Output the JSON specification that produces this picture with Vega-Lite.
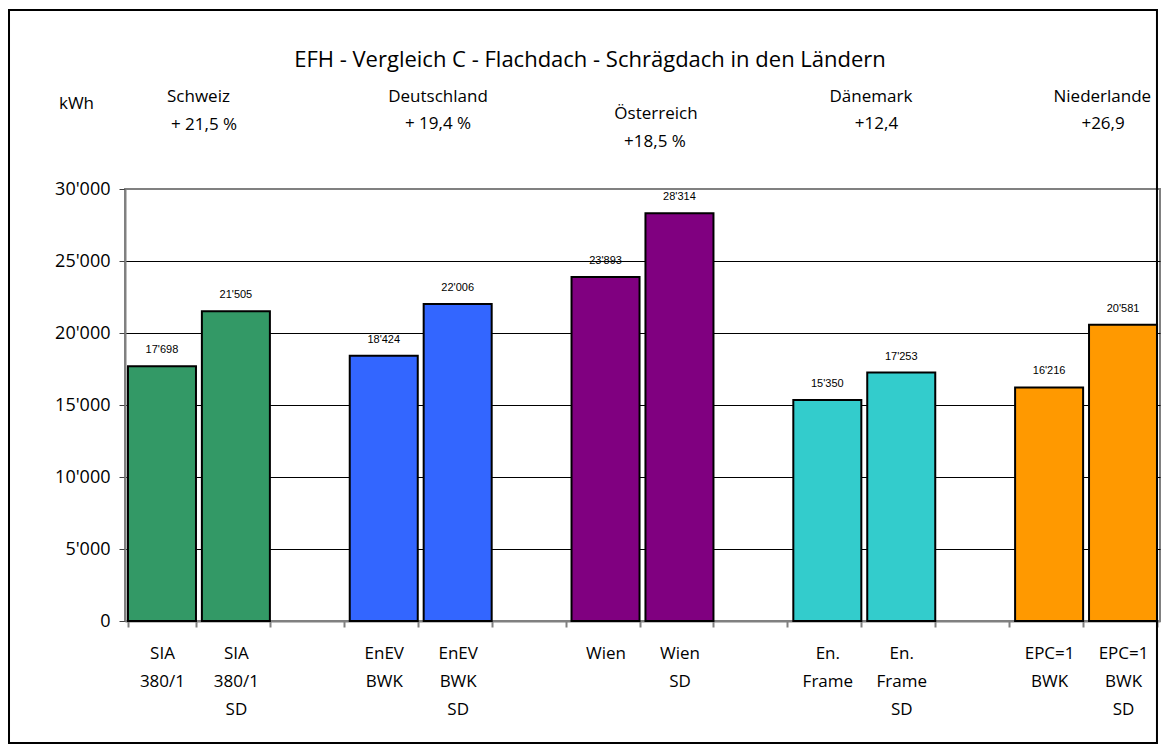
{
  "$schema": "https://vega.github.io/schema/vega-lite/v6.json",
  "autosize": {"type": "none"},
  "width": 1035,
  "height": 432,
  "padding": {"left": 125, "top": 189, "right": 5, "bottom": 130},
  "background": "white",
  "config": {
    "locale": {"number": {"decimal": ",", "thousands": "'", "grouping": [3], "currency": ["", ""]}},
    "view": {"stroke": "#808080", "strokeWidth": 2},
    "font": "Open Sans"
  },
  "resolve": {"scale": {"x": "independent"}},
  "layer": [
    {
      "data": {"values": [
        {"label": "SIA|380/1", "grp": "Schweiz", "kwh": 17698},
        {"label": "SIA|380/1|SD", "grp": "Schweiz", "kwh": 21505},
        {"label": "EnEV|BWK", "grp": "Deutschland", "kwh": 18424},
        {"label": "EnEV|BWK|SD", "grp": "Deutschland", "kwh": 22006},
        {"label": "Wien", "grp": "Österreich", "kwh": 23893},
        {"label": "Wien|SD", "grp": "Österreich", "kwh": 28314},
        {"label": "En.|Frame", "grp": "Dänemark", "kwh": 15350},
        {"label": "En.|Frame|SD", "grp": "Dänemark", "kwh": 17253},
        {"label": "EPC=1|BWK", "grp": "Niederlande", "kwh": 16216},
        {"label": "EPC=1|BWK|SD", "grp": "Niederlande", "kwh": 20581}
      ]},
      "encoding": {
        "x": {
          "field": "label", "type": "nominal", "sort": null,
          "scale": {
            "domain": ["SIA|380/1", "SIA|380/1|SD", "_1", "EnEV|BWK", "EnEV|BWK|SD", "_2", "Wien", "Wien|SD", "_3", "En.|Frame", "En.|Frame|SD", "_4", "EPC=1|BWK", "EPC=1|BWK|SD"],
            "paddingInner": 0.08, "paddingOuter": 0.04
          },
          "axis": {
            "title": null,
            "labelAngle": 0,
            "labelExpr": "indexof(datum.label, '_') == 0 ? '' : split(datum.label, '|')",
            "labelFont": "Open Sans", "labelFontSize": 17, "labelColor": "black",
            "labelLineHeight": 28, "labelPadding": 18,
            "tickBand": "extent", "tickSize": 6, "tickColor": "#808080", "tickWidth": 2,
            "domainColor": "#808080", "domainWidth": 2,
            "grid": false
          }
        },
        "y": {
          "field": "kwh", "type": "quantitative",
          "scale": {"domain": [0, 30000], "nice": false, "zero": true},
          "axis": {
            "title": null,
            "values": [0, 5000, 10000, 15000, 20000, 25000, 30000],
            "format": ",d",
            "labelFont": "Open Sans", "labelFontSize": 18, "labelColor": "black",
            "labelPadding": 9,
            "tickSize": 6, "tickColor": "#404040", "tickWidth": 1,
            "domainColor": "#808080", "domainWidth": 2,
            "grid": true,
            "gridColor": {"condition": {"test": "datum.value == 30000 || datum.value == 0", "value": "#808080"}, "value": "black"},
            "gridWidth": 1
          }
        }
      },
      "layer": [
        {
          "mark": {"type": "bar", "stroke": "black", "strokeWidth": 2, "opacity": 1},
          "encoding": {
            "color": {
              "field": "grp", "type": "nominal",
              "scale": {"domain": ["Schweiz", "Deutschland", "Österreich", "Dänemark", "Niederlande"], "range": ["#339966", "#3366FF", "#800080", "#33CCCC", "#FF9900"]},
              "legend": null
            }
          }
        },
        {
          "mark": {"type": "text", "font": "Liberation Sans", "fontSize": 11, "color": "black", "baseline": "alphabetic", "dy": -13},
          "encoding": {"text": {"field": "kwh", "type": "quantitative", "format": ",d"}}
        }
      ]
    },
    {
      "data": {"values": [
        {"t": "kWh", "xs": -0.656, "ys": 35556},
        {"t": "Schweiz", "xs": 0.994, "ys": 36063},
        {"t": "+ 21,5 %", "xs": 1.069, "ys": 34097},
        {"t": "Deutschland", "xs": 4.234, "ys": 36063},
        {"t": "+ 19,4 %", "xs": 4.234, "ys": 34167},
        {"t": "Österreich", "xs": 7.182, "ys": 34861},
        {"t": "+18,5 %", "xs": 7.169, "ys": 32938},
        {"t": "Dänemark", "xs": 10.09, "ys": 36063},
        {"t": "+12,4", "xs": 10.165, "ys": 34167},
        {"t": "Niederlande", "xs": 13.22, "ys": 36063},
        {"t": "+26,9", "xs": 13.23, "ys": 34167}
      ]},
      "mark": {"type": "text", "font": "Open Sans", "fontSize": 17, "color": "black", "align": "center", "baseline": "alphabetic"},
      "encoding": {
        "x": {"field": "xs", "type": "quantitative", "scale": {"domain": [0, 14], "nice": false, "zero": false}, "axis": null},
        "y": {"field": "ys", "type": "quantitative"},
        "text": {"field": "t"}
      }
    },
    {
      "data": {"values": [
        {"t": "EFH - Vergleich C - Flachdach - Schrägdach in den Ländern", "xs": 6.29, "ys": 38493}
      ]},
      "mark": {"type": "text", "font": "Open Sans", "fontSize": 22, "color": "black", "align": "center", "baseline": "alphabetic"},
      "encoding": {
        "x": {"field": "xs", "type": "quantitative", "scale": {"domain": [0, 14], "nice": false, "zero": false}, "axis": null},
        "y": {"field": "ys", "type": "quantitative"},
        "text": {"field": "t"}
      }
    },
    {
      "data": {"values": [
        {"x0": -1.569, "x1": 13.959, "y0": -8472, "y1": 42431}
      ]},
      "mark": {"type": "rect", "fill": null, "fillOpacity": 0, "stroke": "black", "strokeWidth": 2},
      "encoding": {
        "x": {"field": "x0", "type": "quantitative", "scale": {"domain": [0, 14], "nice": false, "zero": false}, "axis": null},
        "x2": {"field": "x1"},
        "y": {"field": "y0", "type": "quantitative"},
        "y2": {"field": "y1"}
      }
    }
  ]
}
